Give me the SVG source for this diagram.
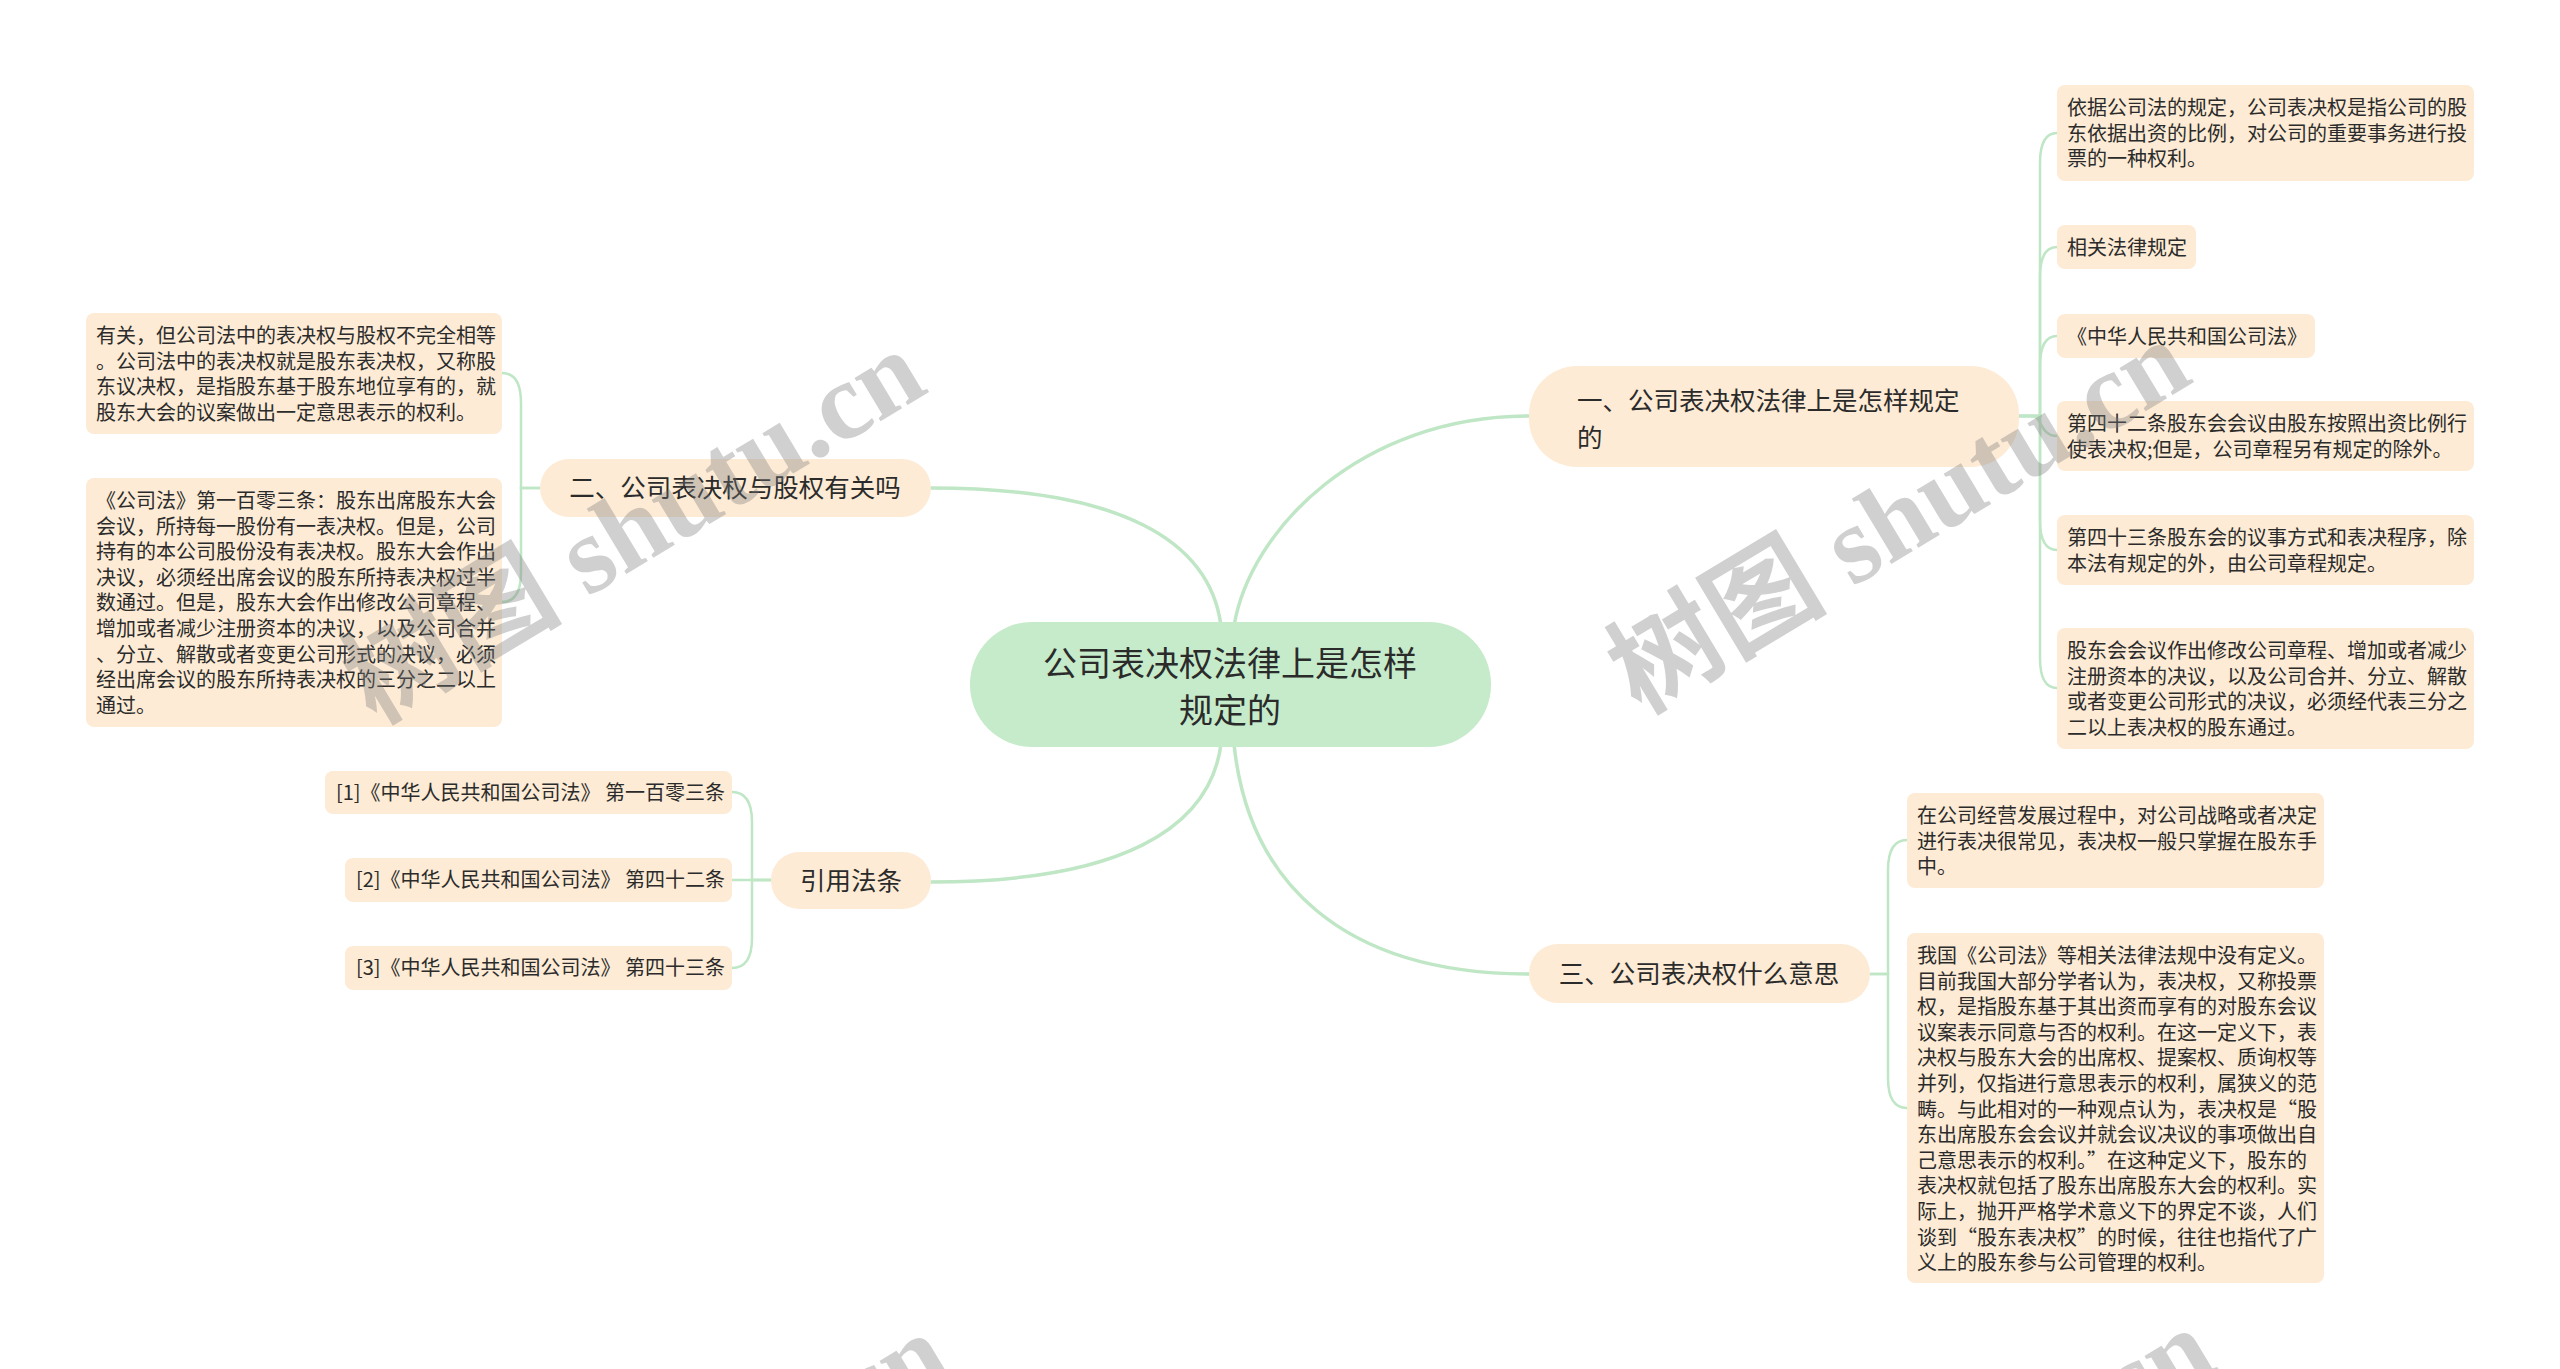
<svg xmlns="http://www.w3.org/2000/svg" width="2560" height="1369" viewBox="0 0 2560 1369">
<style>
.bg{fill:#ffffff}
.conn path{fill:none;stroke:#bfe6c5;stroke-linecap:round}
.main{stroke-width:3.5}
.sub{stroke-width:2.5}
.root rect{fill:#c6ebca}
.topic rect{fill:#fdebd5}
.leaf rect{fill:#fdebd5}
text{font-family:"Noto Sans CJK SC","Noto Sans",sans-serif;fill:#2b2b2b}
.t34{font-size:34px}
.t25{font-size:25.5px}
.t20{font-size:20px}
.wm{font-family:"Liberation Serif","Noto Sans CJK SC",serif;font-size:110px;font-weight:bold;fill:#7a7a7a;opacity:0.35}
</style>
<rect class="bg" x="0" y="0" width="2560" height="1369"/>
<g id="connectors" class="conn">
<path class="main" d="M1221 626 C1210 540 1120 488 931 488"/>
<path class="main" d="M1234 626 C1250 530 1360 416 1529 416"/>
<path class="main" d="M1221 744 C1210 829 1120 882 931 882"/>
<path class="main" d="M1234 744 C1248 880 1340 974 1529 974"/>
<path class="sub" d="M2019 416 H2040 V163 Q2040 133 2057 133"/>
<path class="sub" d="M2019 416 H2040 V277 Q2040 247 2057 247"/>
<path class="sub" d="M2019 416 H2040 V366 Q2040 336 2057 336"/>
<path class="sub" d="M2019 416 H2032 C2042 416 2040 436 2057 436"/>
<path class="sub" d="M2019 416 H2040 V520 Q2040 550 2057 550"/>
<path class="sub" d="M2019 416 H2040 V658 Q2040 688 2057 688"/>
<path class="sub" d="M1870 974 H1888 V870 Q1888 840 1907 840"/>
<path class="sub" d="M1870 974 H1888 V1078 Q1888 1108 1907 1108"/>
<path class="sub" d="M540 488 H521 V403 Q521 373 502 373"/>
<path class="sub" d="M540 488 H521 V572 Q521 602 502 602"/>
<path class="sub" d="M771 880 H752 V822 Q752 792 732 792"/>
<path class="sub" d="M771 880 H732"/>
<path class="sub" d="M771 880 H752 V938 Q752 968 732 968"/>
</g>
<g id="root" class="root">
<rect x="970" y="622" width="521" height="125" rx="62"/>
<text class="t34" x="1230" y="676" text-anchor="middle">公司表决权法律上是怎样</text>
<text class="t34" x="1230" y="723" text-anchor="middle">规定的</text>
</g>
<g id="topic1" class="topic">
<rect x="1529" y="366" width="490" height="101" rx="48"/>
<text class="t25" x="1577" y="410">一、公司表决权法律上是怎样规定</text>
<text class="t25" x="1577" y="447">的</text>
</g>
<g id="topic2" class="topic">
<rect x="540" y="459" width="391" height="58" rx="29"/>
<text class="t25" x="735" y="497" text-anchor="middle">二、公司表决权与股权有关吗</text>
</g>
<g id="topic3" class="topic">
<rect x="1529" y="944" width="341" height="59" rx="29"/>
<text class="t25" x="1699" y="983" text-anchor="middle">三、公司表决权什么意思</text>
</g>
<g id="topic4" class="topic">
<rect x="771" y="852" width="160" height="57" rx="28"/>
<text class="t25" x="851" y="890" text-anchor="middle">引用法条</text>
</g>
<g id="leaf1" class="leaf">
<rect x="2057" y="85" width="417" height="96" rx="8"/>
<text class="t20" x="2067" y="115">依据公司法的规定，公司表决权是指公司的股</text>
<text class="t20" x="2067" y="141">东依据出资的比例，对公司的重要事务进行投</text>
<text class="t20" x="2067" y="166">票的一种权利。</text>
</g>
<g id="leaf2" class="leaf">
<rect x="2057" y="225" width="139" height="44" rx="8"/>
<text class="t20" x="2067" y="255">相关法律规定</text>
</g>
<g id="leaf3" class="leaf">
<rect x="2057" y="314" width="258" height="44" rx="8"/>
<text class="t20" x="2067" y="344">《中华人民共和国公司法》</text>
</g>
<g id="leaf4" class="leaf">
<rect x="2057" y="401" width="417" height="70" rx="8"/>
<text class="t20" x="2067" y="431">第四十二条股东会会议由股东按照出资比例行</text>
<text class="t20" x="2067" y="457">使表决权;但是，公司章程另有规定的除外。</text>
</g>
<g id="leaf5" class="leaf">
<rect x="2057" y="515" width="417" height="70" rx="8"/>
<text class="t20" x="2067" y="545">第四十三条股东会的议事方式和表决程序，除</text>
<text class="t20" x="2067" y="571">本法有规定的外，由公司章程规定。</text>
</g>
<g id="leaf6" class="leaf">
<rect x="2057" y="628" width="417" height="121" rx="8"/>
<text class="t20" x="2067" y="658">股东会会议作出修改公司章程、增加或者减少</text>
<text class="t20" x="2067" y="684">注册资本的决议，以及公司合并、分立、解散</text>
<text class="t20" x="2067" y="709">或者变更公司形式的决议，必须经代表三分之</text>
<text class="t20" x="2067" y="735">二以上表决权的股东通过。</text>
</g>
<g id="leaf7" class="leaf">
<rect x="1907" y="793" width="417" height="95" rx="8"/>
<text class="t20" x="1917" y="823">在公司经营发展过程中，对公司战略或者决定</text>
<text class="t20" x="1917" y="849">进行表决很常见，表决权一般只掌握在股东手</text>
<text class="t20" x="1917" y="874">中。</text>
</g>
<g id="leaf8" class="leaf">
<rect x="1907" y="933" width="417" height="350" rx="8"/>
<text class="t20" x="1917" y="963">我国《公司法》等相关法律法规中没有定义。</text>
<text class="t20" x="1917" y="989">目前我国大部分学者认为，表决权，又称投票</text>
<text class="t20" x="1917" y="1014">权，是指股东基于其出资而享有的对股东会议</text>
<text class="t20" x="1917" y="1040">议案表示同意与否的权利。在这一定义下，表</text>
<text class="t20" x="1917" y="1065">决权与股东大会的出席权、提案权、质询权等</text>
<text class="t20" x="1917" y="1091">并列，仅指进行意思表示的权利，属狭义的范</text>
<text class="t20" x="1917" y="1117">畴。与此相对的一种观点认为，表决权是“股</text>
<text class="t20" x="1917" y="1142">东出席股东会会议并就会议决议的事项做出自</text>
<text class="t20" x="1917" y="1168">己意思表示的权利。”在这种定义下，股东的</text>
<text class="t20" x="1917" y="1193">表决权就包括了股东出席股东大会的权利。实</text>
<text class="t20" x="1917" y="1219">际上，抛开严格学术意义下的界定不谈，人们</text>
<text class="t20" x="1917" y="1245">谈到“股东表决权”的时候，往往也指代了广</text>
<text class="t20" x="1917" y="1270">义上的股东参与公司管理的权利。</text>
</g>
<g id="leafA" class="leaf">
<rect x="86" y="313" width="416" height="121" rx="8"/>
<text class="t20" x="96" y="343">有关，但公司法中的表决权与股权不完全相等</text>
<text class="t20" x="96" y="369">。公司法中的表决权就是股东表决权，又称股</text>
<text class="t20" x="96" y="394">东议决权，是指股东基于股东地位享有的，就</text>
<text class="t20" x="96" y="420">股东大会的议案做出一定意思表示的权利。</text>
</g>
<g id="leafB" class="leaf">
<rect x="86" y="478" width="416" height="249" rx="8"/>
<text class="t20" x="96" y="508">《公司法》第一百零三条：股东出席股东大会</text>
<text class="t20" x="96" y="534">会议，所持每一股份有一表决权。但是，公司</text>
<text class="t20" x="96" y="559">持有的本公司股份没有表决权。股东大会作出</text>
<text class="t20" x="96" y="585">决议，必须经出席会议的股东所持表决权过半</text>
<text class="t20" x="96" y="610">数通过。但是，股东大会作出修改公司章程、</text>
<text class="t20" x="96" y="636">增加或者减少注册资本的决议，以及公司合并</text>
<text class="t20" x="96" y="662">、分立、解散或者变更公司形式的决议，必须</text>
<text class="t20" x="96" y="687">经出席会议的股东所持表决权的三分之二以上</text>
<text class="t20" x="96" y="713">通过。</text>
</g>
<g id="ref1" class="leaf">
<rect x="325" y="771" width="407" height="43" rx="8"/>
<text class="t20" x="336" y="800">[1]《中华人民共和国公司法》 第一百零三条</text>
</g>
<g id="ref2" class="leaf">
<rect x="345" y="858" width="387" height="44" rx="8"/>
<text class="t20" x="356" y="887">[2]《中华人民共和国公司法》 第四十二条</text>
</g>
<g id="ref3" class="leaf">
<rect x="345" y="946" width="387" height="44" rx="8"/>
<text class="t20" x="356" y="975">[3]《中华人民共和国公司法》 第四十三条</text>
</g>
<g id="watermarks">
<text class="wm" transform="translate(375 725) rotate(-31)">树图 shutu.cn</text>
<text class="wm" transform="translate(1640 715) rotate(-31)">树图 shutu.cn</text>
<text class="wm" transform="translate(400 1708) rotate(-31)">树图 shutu.cn</text>
<text class="wm" transform="translate(1665 1703) rotate(-31)">树图 shutu.cn</text>
</g>
</svg>
